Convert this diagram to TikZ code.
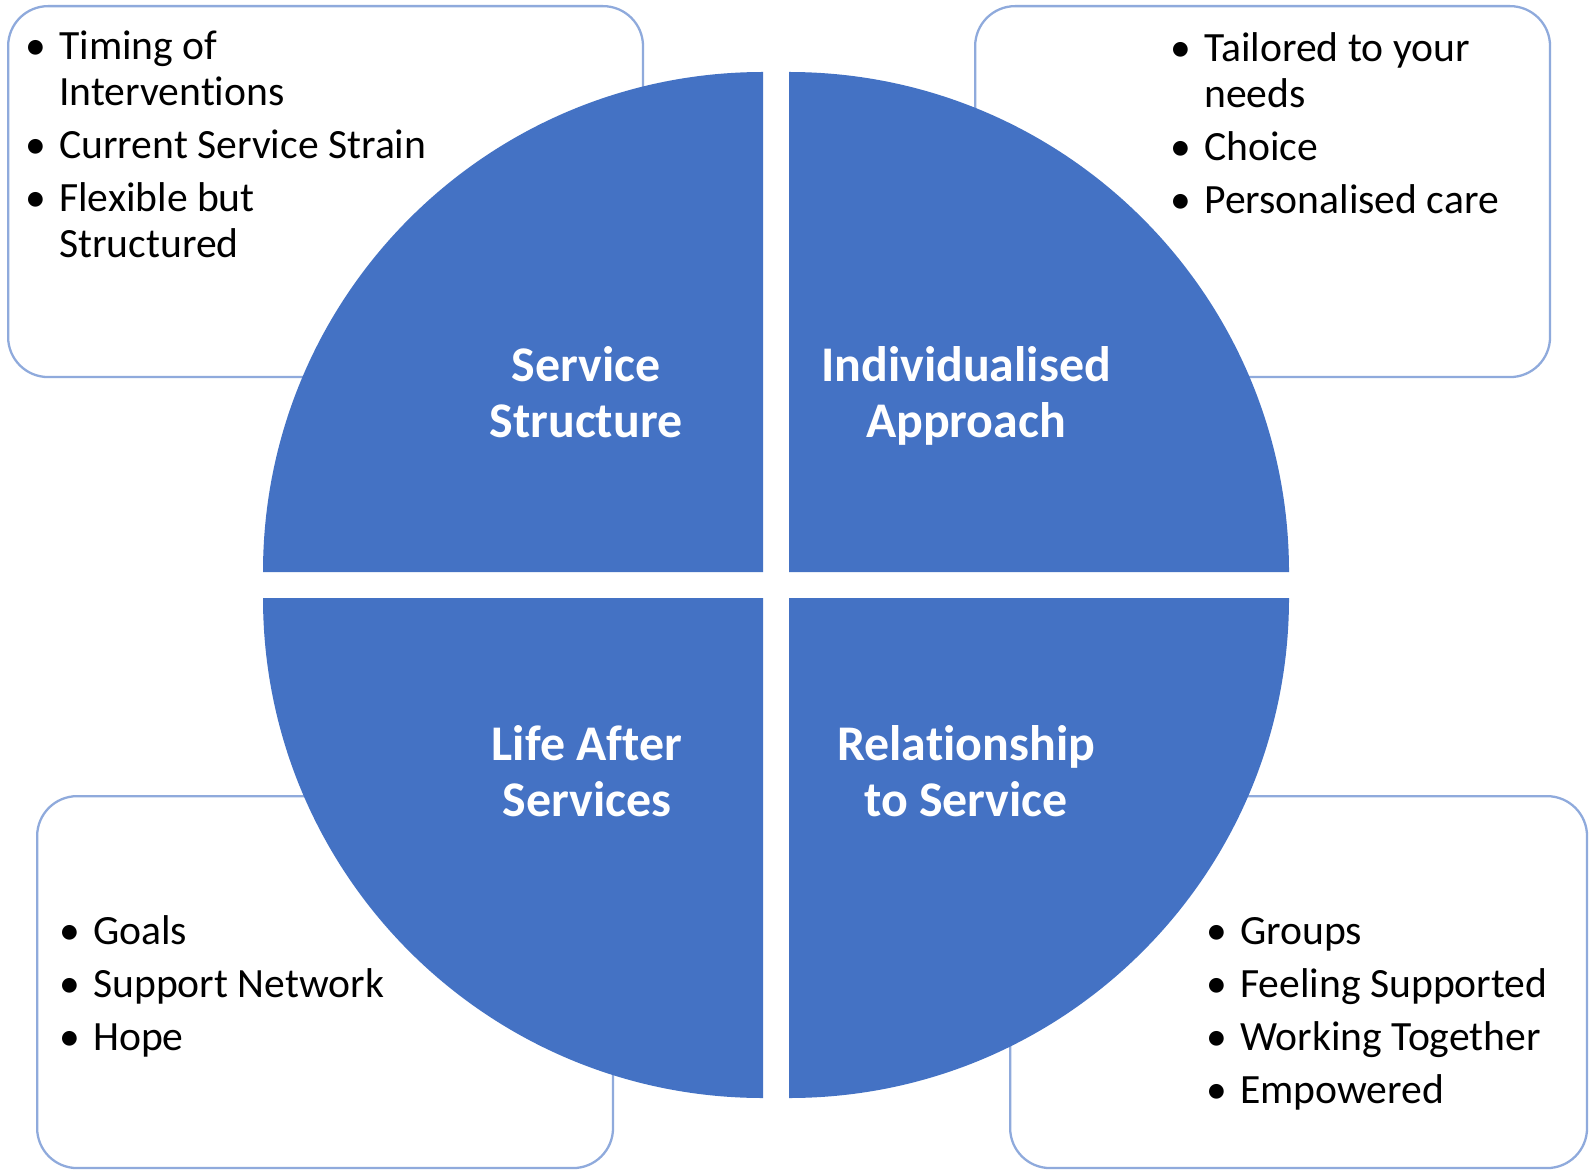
\documentclass[tikz,border=0pt]{standalone}
\usepackage{fontspec}
\setmainfont{Carlito}[Ligatures={TeX,NoCommon}]
\usepackage{tikz}
\usetikzlibrary{positioning}

\definecolor{quadblue}{HTML}{4472C4}
\definecolor{boxline}{HTML}{8FAADC}

% bullet list: bullet column, then the text
\newcommand{\itemlist}[1]{\begin{tabular}[t]{@{}p{19.3pt}@{}l@{}}#1\end{tabular}}
\newcommand{\bul}{\textbullet}
\newcommand{\twolines}[2]{\begin{tabular}[t]{@{}c@{}}#1\\#2\end{tabular}}

\begin{document}
\begin{tikzpicture}[x=0.02cm, y=-0.02cm,
        infobox/.style={draw=boxline, line width=1.3pt, rounded corners=0.8cm, fill=white, anchor=north west},
        quadrant/.style={fill=quadblue},
        quadlabel/.style={text=white, anchor=base, inner sep=0pt, font=\fontsize{28.4}{32.3}\selectfont\bfseries},
        itemtext/.style={anchor=base west, inner sep=0pt, font=\fontsize{23.7}{25.9}\selectfont}]
        \useasboundingbox (0,0) rectangle (1594,1175);
        \fill[white] (0,0) rectangle (1594,1175);

        % boxes behind the circle
        \node [infobox, minimum width=12.7cm, minimum height=7.42cm] (tlbox) at (7,5) {};
        \node [infobox, minimum width=11.5cm, minimum height=7.42cm] (trbox) at (974,5) {};
        \node [infobox, minimum width=11.52cm, minimum height=7.44cm] (blbox) at (36,795) {};
        \node [infobox, minimum width=11.54cm, minimum height=7.44cm] (brbox) at (1009,795) {};

        \node [itemtext] (tlitems) at (25,60) {\itemlist{\bul & Timing of\\ & Interventions\\[4.4pt]
            \bul & Current Service Strain\\[4.4pt] \bul & Flexible but\\ & Structured}};
        \node [itemtext] (tritems) at (1170,62) {\itemlist{\bul & Tailored to your\\ & needs\\[4.4pt]
            \bul & Choice\\[4.4pt] \bul & Personalised care}};
        \node [itemtext] (blitems) at (59,944) {\itemlist{\bul & Goals\\[4.4pt]
            \bul & Support Network\\[4.4pt] \bul & Hope}};
        \node [itemtext] (britems) at (1206,944) {\itemlist{\bul & Groups\\[4.4pt]
            \bul & Feeling Supported\\[4.4pt] \bul & Working Together\\[4.4pt] \bul & Empowered}};

        % the four quarters
        \fill[quadrant] (763,572) -- (263,572) arc[start angle=180, end angle=270, radius=500] -- cycle;
        \fill[quadrant] (789,572) -- (789,72) arc[start angle=270, end angle=360, radius=500] -- cycle;
        \fill[quadrant] (789,598) -- (1289,598) arc[start angle=0, end angle=90, radius=500] -- cycle;
        \fill[quadrant] (763,598) -- (763,1098) arc[start angle=90, end angle=180, radius=500] -- cycle;

        \node [quadlabel] (structure) at (586,381) {\twolines{Service}{Structure}};
        \node [quadlabel] (individual) at (966,381) {\twolines{Individualised}{Approach}};
        \node [quadlabel] (lifeafter) at (587,760) {\twolines{Life After}{Services}};
        \node [quadlabel] (relation) at (966,760) {\twolines{Relationship}{to Service}};
    \end{tikzpicture}
\end{document}
